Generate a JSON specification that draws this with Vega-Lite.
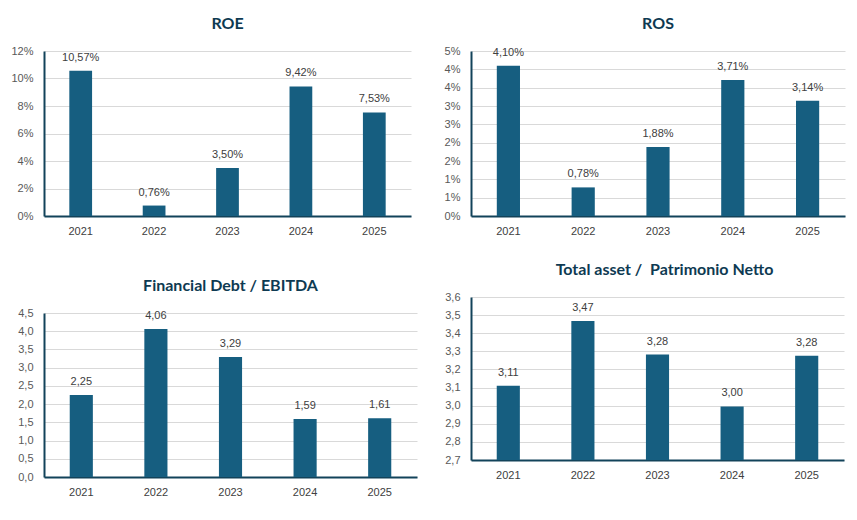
{
  "$schema": "https://vega.github.io/schema/vega-lite/v6.json",
  "background": "white",
  "padding": {"left": 10, "top": 16, "right": 5, "bottom": 5},
  "datasets": {
    "roe": [
      {"year": "2021", "value": 0.1057},
      {"year": "2022", "value": 0.0076},
      {"year": "2023", "value": 0.035},
      {"year": "2024", "value": 0.0942},
      {"year": "2025", "value": 0.0753}
    ],
    "ros": [
      {"year": "2021", "value": 0.041},
      {"year": "2022", "value": 0.0078},
      {"year": "2023", "value": 0.0188},
      {"year": "2024", "value": 0.0371},
      {"year": "2025", "value": 0.0314}
    ],
    "debt": [
      {"year": "2021", "value": 2.25},
      {"year": "2022", "value": 4.06},
      {"year": "2023", "value": 3.29},
      {"year": "2024", "value": 1.59},
      {"year": "2025", "value": 1.61}
    ],
    "assets": [
      {"year": "2021", "value": 3.11},
      {"year": "2022", "value": 3.468},
      {"year": "2023", "value": 3.282},
      {"year": "2024", "value": 2.996},
      {"year": "2025", "value": 3.276}
    ]
  },
  "config": {
    "locale": {"number": {"decimal": ",", "thousands": ".", "grouping": [3], "currency": ["€", ""]}},
    "view": {"stroke": null},
    "font": "Liberation Sans",
    "title": {"font": "Lato", "fontSize": 16, "fontWeight": "bold", "color": "#0e3a52", "anchor": "middle", "offset": 13},
    "axisX": {"domainColor": "#12435a", "domainWidth": 2, "ticks": false, "grid": false, "labelAngle": 0, "labelPadding": 9, "labelColor": "#404040", "labelFontSize": 11, "title": null},
    "axisY": {"domainColor": "#12435a", "domainWidth": 2, "ticks": false, "gridColor": "#d9d9d9", "labelPadding": 11, "labelColor": "#595959", "labelFontSize": 11, "title": null},
    "bar": {"color": "#165e80"},
    "text": {"color": "#404040", "fontSize": 11, "baseline": "middle", "dy": -13}
  },
  "spacing": 16,
  "hconcat": [
    {
      "spacing": 42,
      "vconcat": [
        {
          "title": "ROE",
          "width": 367,
          "height": 165,
          "data": {"name": "roe"},
          "encoding": {
            "x": {"field": "year", "type": "ordinal", "scale": {"paddingInner": 0.69, "paddingOuter": 0.345}},
            "y": {"field": "value", "type": "quantitative", "scale": {"domain": [0, 0.12]}, "axis": {"values": [0, 0.02, 0.04, 0.06, 0.08, 0.1, 0.12], "format": ".0%", "minExtent": 32}}
          },
          "layer": [
            {"mark": "bar"},
            {"mark": "text", "encoding": {"text": {"field": "value", "format": ".2%"}}}
          ]
        },
        {
          "title": "Financial Debt / EBITDA",
          "width": 373,
          "height": 164,
          "data": {"name": "debt"},
          "encoding": {
            "x": {"field": "year", "type": "ordinal", "scale": {"paddingInner": 0.69, "paddingOuter": 0.345}},
            "y": {"field": "value", "type": "quantitative", "scale": {"domain": [0, 4.5]}, "axis": {"values": [0, 0.5, 1, 1.5, 2, 2.5, 3, 3.5, 4, 4.5], "format": ".1f", "minExtent": 32}}
          },
          "layer": [
            {"mark": "bar"},
            {"mark": "text", "encoding": {"text": {"field": "value", "format": ".2f"}}}
          ]
        }
      ]
    },
    {
      "spacing": 26,
      "align": "none",
      "vconcat": [
        {
          "title": "ROS",
          "width": 374,
          "height": 165,
          "data": {"name": "ros"},
          "encoding": {
            "x": {"field": "year", "type": "ordinal", "scale": {"paddingInner": 0.69, "paddingOuter": 0.345}},
            "y": {"field": "value", "type": "quantitative", "scale": {"domain": [0, 0.045]}, "axis": {"values": [0, 0.005, 0.01, 0.015, 0.02, 0.025, 0.03, 0.035, 0.04, 0.045], "labelExpr": "round(datum.value * 100 + 0.000001) + '%'", "minExtent": 30}}
          },
          "layer": [
            {"mark": "bar"},
            {"mark": "text", "encoding": {"text": {"field": "value", "format": ".2%"}}}
          ]
        },
        {
          "title": {"text": "Total asset / \u00a0Patrimonio Netto", "dx": 7},
          "width": 373,
          "height": 163,
          "data": {"name": "assets"},
          "encoding": {
            "x": {"field": "year", "type": "ordinal", "scale": {"paddingInner": 0.69, "paddingOuter": 0.345}},
            "y": {"field": "value", "type": "quantitative", "scale": {"domain": [2.7, 3.6]}, "axis": {"values": [2.7, 2.8, 2.9, 3.0, 3.1, 3.2, 3.3, 3.4, 3.5, 3.6], "format": ".1f", "minExtent": 38}}
          },
          "layer": [
            {"mark": "bar", "encoding": {"y2": {"datum": 2.7}}},
            {"mark": "text", "encoding": {"text": {"field": "value", "format": ".2f"}}}
          ]
        }
      ]
    }
  ]
}
